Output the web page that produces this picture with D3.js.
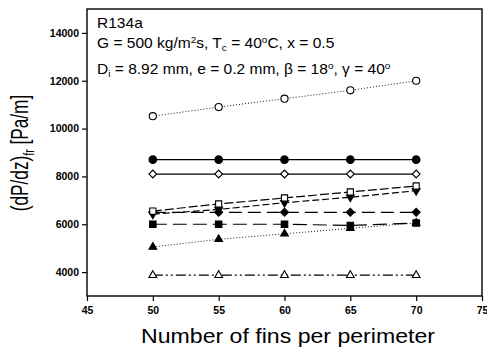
<!DOCTYPE html>
<html>
<head>
<meta charset="utf-8">
<title>dP/dz vs fins</title>
<script src="https://d3js.org/d3.v7.min.js"></script>
<style>
  body { margin: 0; background: #fff; }
  text { font-family: "Liberation Sans", Arial, sans-serif; fill: #000; }
</style>
</head>
<body>
<div id="chart"></div>
<script>
// fins per perimeter
var fins = [50, 55, 60, 65, 70];

// pressure gradient series, Pa/m
var openCircle   = [10520, 10900, 11250, 11600, 12000];
var fillCircle   = [8700, 8700, 8700, 8700, 8700];
var openDiamond  = [8100, 8100, 8100, 8100, 8100];
var openSquare   = [6550, 6850, 7100, 7350, 7600];
var fillTriDown  = [6420, 6620, 6900, 7130, 7400];
var fillDiamond  = [6500, 6500, 6500, 6500, 6500];
var fillSquare   = [6000, 6000, 6000, 5950, 6050];
var fillTriangle = [5050, 5370, 5600, 5830, 6050];
var openTriangle = [3870, 3870, 3870, 3870, 3870];

var xTicks = [45, 50, 55, 60, 65, 70, 75];
var yTicks = [4000, 6000, 8000, 10000, 12000, 14000];

var series = [
  {v: openCircle,   sym: d3.symbolCircle,   fill: "#fff", dash: "1,2", size: 40},
  {v: fillCircle,   sym: d3.symbolCircle,   fill: "#000", dash: null, size: 45},
  {v: openDiamond,  sym: d3.symbolSquare,   fill: "#fff", dash: null, size: 30, rot: 45},
  {v: fillDiamond,  sym: d3.symbolSquare,   fill: "#000", dash: "13,6", size: 32, rot: 45},
  {v: fillSquare,   sym: d3.symbolSquare,   fill: "#000", dash: "14,6", size: 42},
  {v: fillTriangle, sym: d3.symbolTriangle, fill: "#000", dash: "1,2", size: 26},
  {v: fillTriDown,  sym: d3.symbolTriangle, fill: "#000", dash: "7,3", size: 26, rot: 180},
  {v: openSquare,   sym: d3.symbolSquare,   fill: "#fff", dash: "9,3", size: 38},
  {v: openTriangle, sym: d3.symbolTriangle, fill: "#fff", dash: "10,3,2,3,2,3", size: 26}
];

var width = 487, height = 351;
var svg = d3.select("#chart").append("svg")
  .attr("width", width).attr("height", height);

var x = d3.scaleLinear().domain([45, 75]).range([87, 482]);
var y = d3.scaleLinear().domain([3000, 15000]).range([296, 9]);

// frame
svg.append("rect")
  .attr("x", 87).attr("y", 9)
  .attr("width", 395).attr("height", 287)
  .attr("fill", "none").attr("stroke", "#000").attr("stroke-width", 1.4);

var xAxis = svg.append("g")
  .attr("transform", "translate(0,296)")
  .call(d3.axisBottom(x).tickValues(xTicks).tickSize(5).tickPadding(6));
var yAxis = svg.append("g")
  .attr("transform", "translate(87,0)")
  .call(d3.axisLeft(y).tickValues(yTicks).tickFormat(d3.format("d")).tickSize(5).tickPadding(3));

[xAxis, yAxis].forEach(function(g) {
  g.select(".domain").remove();
  g.selectAll("line").attr("stroke", "#000").attr("stroke-width", 1.2);
  g.selectAll("text").attr("font-size", "10.5px").attr("font-weight", "bold")
    .attr("font-family", "'Liberation Sans', Arial, sans-serif");
});

var line = d3.line().x(function(d, i) { return x(fins[i]); }).y(function(d) { return y(d); });

series.forEach(function(s) {
  svg.append("path")
    .attr("d", line(s.v))
    .attr("fill", "none")
    .attr("stroke", "#000")
    .attr("stroke-width", s.dash === "1,2" ? 0.9 : 1.2)
    .attr("stroke-dasharray", s.dash);
});

series.forEach(function(s) {
  svg.selectAll(null)
    .data(s.v)
    .enter()
    .append("path")
    .attr("d", d3.symbol().type(s.sym).size(s.size))
    .attr("transform", function(d, i) {
      return "translate(" + x(fins[i]) + "," + y(d) + ")" + (s.rot ? " rotate(" + s.rot + ")" : "");
    })
    .attr("fill", s.fill)
    .attr("stroke", "#000")
    .attr("stroke-width", 1.1);
});

// annotation (the scan is stretched a bit sideways)
var ann = svg.append("g").attr("font-size", "14px")
  .attr("transform", "translate(97,0) scale(1.11,1)");
ann.append("text").attr("x", 0).attr("y", 28).text("R134a");
var t2 = ann.append("text").attr("x", 0).attr("y", 48);
t2.append("tspan").text("G = 500 kg/m");
t2.append("tspan").attr("dy", -5).attr("font-size", "9px").text("2");
t2.append("tspan").attr("dy", 5).text("s, T");
t2.append("tspan").attr("dy", 3).attr("font-size", "9px").text("c");
t2.append("tspan").attr("dy", -3).text(" = 40");
t2.append("tspan").attr("dy", -5).attr("font-size", "9px").text("o");
t2.append("tspan").attr("dy", 5).text("C, x = 0.5");
var t3 = ann.append("text").attr("x", 0).attr("y", 74);
t3.append("tspan").text("D");
t3.append("tspan").attr("dy", 3).attr("font-size", "9px").text("i");
t3.append("tspan").attr("dy", -3).text(" = 8.92 mm, e = 0.2 mm, \u03b2 = 18");
t3.append("tspan").attr("dy", -5).attr("font-size", "9px").text("o");
t3.append("tspan").attr("dy", 5).text(", \u03b3 = 40");
t3.append("tspan").attr("dy", -5).attr("font-size", "9px").text("o");

// axis titles
svg.append("text")
  .attr("transform", "translate(288,343) scale(1.1,1)")
  .attr("text-anchor", "middle")
  .attr("font-size", "21px")
  .text("Number of fins per perimeter");

var yt = svg.append("text")
  .attr("transform", "translate(28,153) rotate(-90) scale(0.82,1.1)")
  .attr("text-anchor", "middle")
  .attr("font-size", "21px");
yt.append("tspan").text("(dP/dz)");
yt.append("tspan").attr("dy", 5).attr("font-size", "13px").text("fr");
yt.append("tspan").attr("dy", -5).text(" [Pa/m]");
</script>
</body>
</html>
